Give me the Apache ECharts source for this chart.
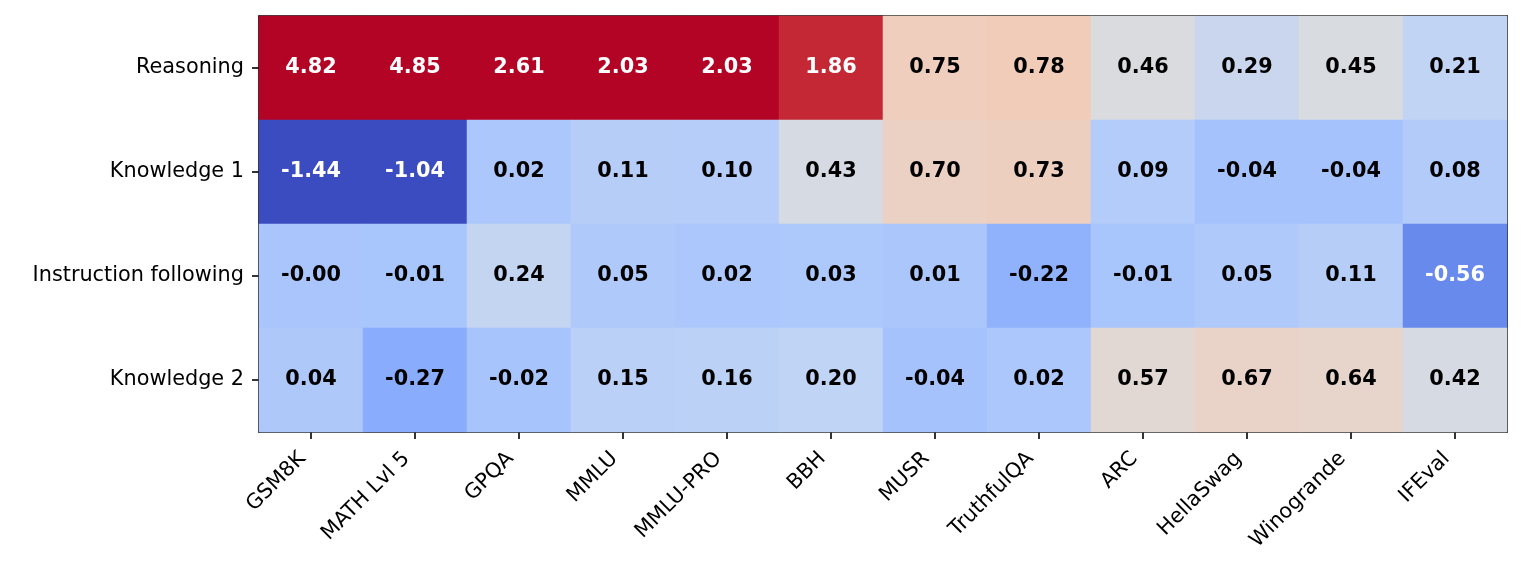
<!DOCTYPE html>
<html><head><meta charset="utf-8">
<script src="https://cdn.jsdelivr.net/npm/echarts@6/dist/echarts.min.js"></script>
<style>html,body{margin:0;padding:0;background:#fff}#c{width:1523px;height:574px}</style>
</head><body><div id="c"></div>
<script>
const benchmarks = ["GSM8K","MATH Lvl 5","GPQA","MMLU","MMLU-PRO","BBH","MUSR","TruthfulQA","ARC","HellaSwag","Winogrande","IFEval"];
const factors = ["Reasoning","Knowledge 1","Instruction following","Knowledge 2"];
const reasoning = [4.82,4.85,2.61,2.03,2.03,1.86,0.75,0.78,0.46,0.29,0.45,0.21];
const knowledge1 = [-1.44,-1.04,0.02,0.11,0.10,0.43,0.70,0.73,0.09,-0.04,-0.04,0.08];
const instruction = [-0.00,-0.01,0.24,0.05,0.02,0.03,0.01,-0.22,-0.01,0.05,0.11,-0.56];
const knowledge2 = [0.04,-0.27,-0.02,0.15,0.16,0.20,-0.04,0.02,0.57,0.67,0.64,0.42];
const rows = [reasoning, knowledge1, instruction, knowledge2];

const coolwarm = ['#3b4cc0','#5977e3','#7b9ff9','#9ebeff','#c0d4f5','#dddcdc','#f2cbb7','#f7ac8e','#ee8468','#d65244','#b40426'];
const vmin = -1, vmax = 2;

const data = [];
rows.forEach((r, yi) => r.forEach((v, xi) => {
  const n = (v - vmin) / (vmax - vmin);
  const white = n > 0.85 || n < 0.2;
  data.push({value: [xi, yi, v], label: {color: white ? '#fff' : '#000'}});
}));

const font = 'DejaVu Sans';
const fs = 20.8;
const lw = 1.6;
const chart = echarts.init(document.getElementById('c'), null, {renderer: 'canvas'});
chart.setOption({
  animation: false,
  grid: {left: 259, top: 16, width: 1248, height: 416},
  xAxis: [{
    type: 'category', data: benchmarks, position: 'bottom',
    axisLine: {show: true, onZero: false, lineStyle: {color: '#000', width: lw}},
    axisTick: {show: true, alignWithLabel: true, length: 7, lineStyle: {color: '#000', width: lw}},
    axisLabel: {rotate: 45, fontSize: fs, color: '#000', fontFamily: font, margin: 15, interval: 0, padding: [0, 12, 0, 0]},
    splitLine: {show: false}
  }, {
    type: 'category', data: benchmarks, position: 'top',
    axisLine: {show: true, onZero: false, lineStyle: {color: '#000', width: lw}},
    axisTick: {show: false}, axisLabel: {show: false}, splitLine: {show: false}
  }],
  yAxis: [{
    type: 'category', data: factors, inverse: true, position: 'left',
    axisLine: {show: true, onZero: false, lineStyle: {color: '#000', width: lw}},
    axisTick: {show: true, alignWithLabel: true, length: 7, lineStyle: {color: '#000', width: lw}},
    axisLabel: {fontSize: fs, color: '#000', fontFamily: font, margin: 15, interval: 0, padding: [6, 0, 0, 0]},
    splitLine: {show: false}
  }, {
    type: 'category', data: factors, inverse: true, position: 'right',
    axisLine: {show: true, onZero: false, lineStyle: {color: '#000', width: lw}},
    axisTick: {show: false}, axisLabel: {show: false}, splitLine: {show: false}
  }],
  visualMap: {show: false, min: vmin, max: vmax, dimension: 2, inRange: {color: coolwarm}},
  series: [{
    type: 'heatmap', data: data, z: 1,
    label: {show: true, fontSize: fs, fontWeight: 'bold', fontFamily: font, padding: [4, 0, 0, 0],
      formatter: p => (Math.abs(p.value[2]) < 0.005 ? '-0.00' : p.value[2].toFixed(2))},
    itemStyle: {borderWidth: 0},
    emphasis: {disabled: true}
  }]
});
</script></body></html>
